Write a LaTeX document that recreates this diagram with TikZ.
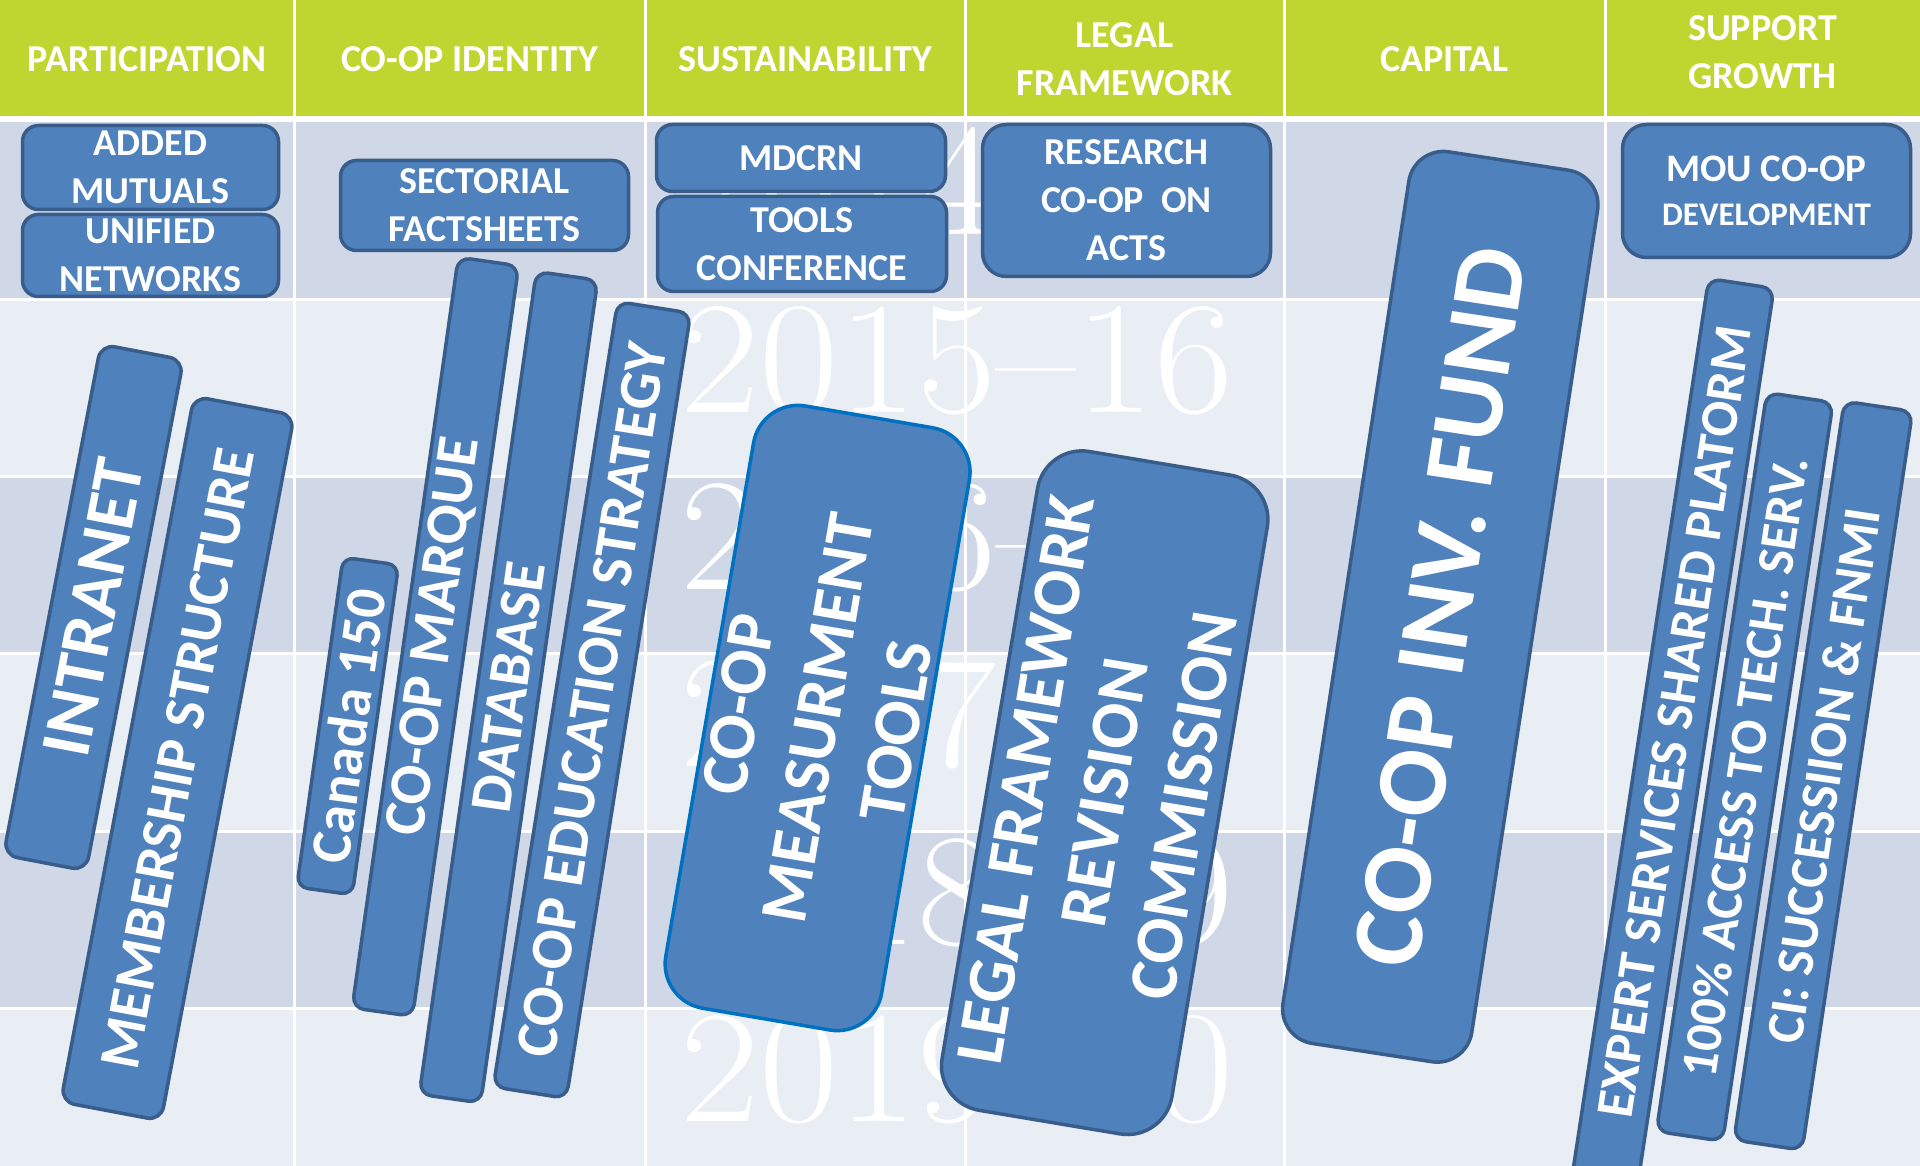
\documentclass[tikz,border=0pt]{standalone}
\usepackage{fontspec}
\usepackage{graphicx}
\newfontfamily\cbr{Carlito}
\definecolor{hdr}{RGB}{191,214,48}
\definecolor{banddark}{RGB}{208,216,232}
\definecolor{bandlight}{RGB}{233,237,244}
\definecolor{boxfill}{RGB}{79,129,189}
\definecolor{boxline}{RGB}{56,93,138}
\definecolor{brightline}{RGB}{0,112,192}
\newcommand{\yr}[1]{\scalebox{1.097}[1.02]{#1}}
\begin{document}
\begin{tikzpicture}[x=1pt,y=-1pt,
  every node/.style={inner sep=0pt, outer sep=0pt},
  hdrtext/.style={text=white, font=\cbr\bfseries\fontsize{38}{48}\selectfont, align=center},
  yeartext/.style={text=white, font=\fontsize{157}{160}\selectfont, anchor=base west},
  hbox/.style={draw=boxline, line width=3.5pt, fill=boxfill, rounded corners=16pt, text=white, align=center, font=\cbr\bfseries\fontsize{38}{48}\selectfont},
  rbox/.style={draw=boxline, line width=3.5pt, fill=boxfill, rounded corners=14pt, text=white, align=center},
  gridline/.style={white, line width=3pt}
]
\useasboundingbox (0,0) rectangle (1920,1166);
\clip (0,0) rectangle (1920,1166);
% background table
\fill[hdr] (0,0) rectangle (1920,116);
\fill[white] (0,116) rectangle (1920,122);
\fill[banddark]  (0,122)    rectangle (1920,299.3);
\fill[bandlight] (0,299.3)  rectangle (1920,476.6);
\fill[banddark]  (0,476.6)  rectangle (1920,653.9);
\fill[bandlight] (0,653.9)  rectangle (1920,831.2);
\fill[banddark]  (0,831.2)  rectangle (1920,1008.5);
\fill[bandlight] (0,1008.5) rectangle (1920,1166);
\foreach \yy in {299.3,476.6,653.9,831.2,1008.5} \draw[gridline] (0,\yy) -- (1920,\yy);
\foreach \xx in {294,645,965,1284,1605} \draw[gridline] (\xx,0) -- (\xx,1166);
% headers
\node[hdrtext] (h1) at (147,59) {PARTICIPATION};
\node[hdrtext] (h2) at (469.5,59) {CO-OP IDENTITY};
\node[hdrtext] (h3) at (805,59) {SUSTAINABILITY};
\node[hdrtext] (h4) at (1124.5,59) {LEGAL\\FRAMEWORK};
\node[hdrtext] (h5) at (1444.5,59) {CAPITAL};
\node[hdrtext] (h6) at (1762.5,52) {SUPPORT\\GROWTH};
% year labels
\node[yeartext] (y1) at (680,235) {\yr{2014–15}};
\node[yeartext] (y2) at (680,412.3) {\yr{2015–16}};
\node[yeartext] (y3) at (680,589.6) {\yr{2016–17}};
\node[yeartext] (y4) at (680,766.9) {\yr{2017–18}};
\node[yeartext] (y5) at (680,944.2) {\yr{2018–19}};
\node[yeartext] (y6) at (680,1121.5) {\yr{2019–20}};
% row-1 boxes
\node[hbox, minimum width=256pt, minimum height=84pt] (added) at (150.5,167.5) {ADDED\\MUTUALS};
\node[hbox, minimum width=256pt, minimum height=82pt] (unified) at (150.5,255.5) {UNIFIED\\NETWORKS};
\node[hbox, minimum width=288pt, minimum height=90pt] (sector) at (484.5,205.5) {SECTORIAL\\FACTSHEETS};
\node[hbox, minimum width=289pt, minimum height=67pt] (mdcrn) at (801,158) {MDCRN};
\node[hbox, minimum width=289pt, minimum height=95pt] (tools) at (802,244) {TOOLS\\CONFERENCE};
\node[hbox, minimum width=288pt, minimum height=152pt, rounded corners=24pt] (research) at (1126.5,200.5) {RESEARCH\\CO-OP\ \ ON\\ACTS};
\node[hbox, minimum width=288pt, minimum height=133pt, rounded corners=24pt, font=\cbr\bfseries\fontsize{39}{44}\selectfont] (mou) at (1766.5,191) {MOU CO-OP\\{\fontsize{33}{44}\selectfont DEVELOPMENT}};
% rotated boxes
\node[rbox, rotate=79.2, minimum width=520pt, minimum height=84pt, font=\cbr\bfseries\fontsize{71}{80}\selectfont] (intranet) at (93.5,607.5) {INTRANET};
\node[rbox, rotate=79.3, minimum width=718pt, minimum height=102pt, font=\cbr\bfseries\fontsize{58}{70}\selectfont] (member) at (177.5,758.5) {MEMBERSHIP STRUCTURE};
\node[rbox, rotate=82, minimum width=333pt, minimum height=56pt, rounded corners=11pt, font=\cbr\bfseries\fontsize{57}{70}\selectfont] (canada) at (347.7,726) {Canada 150};
\node[rbox, rotate=81.95, minimum width=758pt, minimum height=61pt, rounded corners=12pt, font=\cbr\bfseries\fontsize{59}{70}\selectfont] (marque) at (435.4,636.8) {CO-OP MARQUE};
\node[rbox, rotate=81.9, minimum width=831pt, minimum height=62pt, rounded corners=12pt, font=\cbr\bfseries\fontsize{59}{70}\selectfont] (database) at (508.5,687.2) {DATABASE};
\node[rbox, rotate=81, minimum width=795pt, minimum height=74pt, rounded corners=12pt, font=\cbr\bfseries\fontsize{59}{70}\selectfont] (educ) at (592,700) {CO-OP EDUCATION STRATEGY};
\node[rbox, draw=brightline, rotate=80.3, minimum width=611pt, minimum height=219pt, rounded corners=45pt, font=\cbr\bfseries\fontsize{67}{80}\selectfont] (measure) at (817.6,718) {CO-OP\\MEASURMENT\\TOOLS};
\node[rbox, rotate=80.5, minimum width=668pt, minimum height=233pt, rounded corners=45pt, font=\cbr\bfseries\fontsize{68}{80}\selectfont] (legal) at (1104.7,792.7) {LEGAL FRAMEWORK\\REVISION\\COMMISSION};
\node[rbox, rotate=81.3, minimum width=902pt, minimum height=191pt, rounded corners=35pt, font=\cbr\bfseries\fontsize{100}{110}\selectfont] (fund) at (1440.3,606.8) {CO-OP INV. FUND};
\node[rbox, rotate=81.35, minimum width=927pt, minimum height=66pt, rounded corners=12pt, font=\cbr\bfseries\fontsize{53}{60}\selectfont] (expert) at (1671.6,741.7) {\hspace*{40pt}EXPERT SERVICES SHARED PLATORM};
\node[rbox, rotate=81.5, minimum width=747pt, minimum height=67pt, rounded corners=12pt, font=\cbr\bfseries\fontsize{52}{60}\selectfont] (access) at (1744.7,766.9) {100\% ACCESS TO TECH. SERV.};
\node[rbox, rotate=81.5, minimum width=747pt, minimum height=69pt, rounded corners=12pt, font=\cbr\bfseries\fontsize{53}{60}\selectfont] (ci) at (1823.2,775.7) {CI: SUCCESSIION \& FNMI};
\end{tikzpicture}
\end{document}
